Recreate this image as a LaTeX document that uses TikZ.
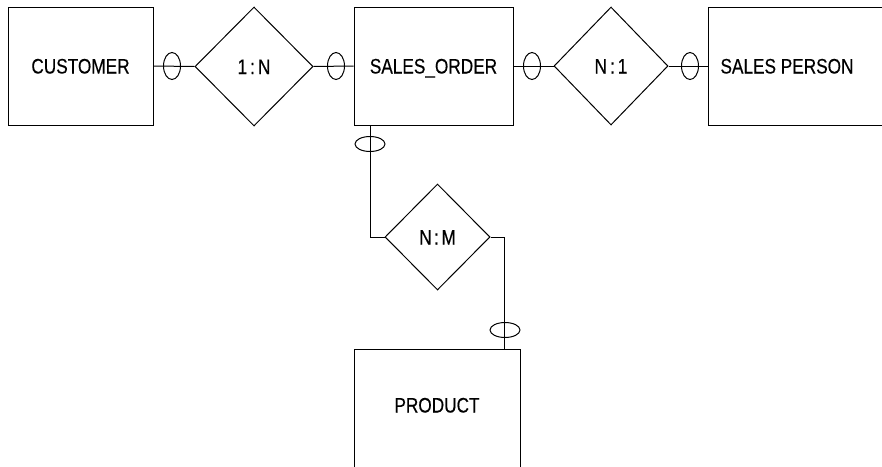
\documentclass[tikz,border=0pt]{standalone}
\usepackage{fontspec}
\setmainfont{Liberation Sans}[FakeStretch=0.82,FakeBold=0.4]
\usetikzlibrary{shapes.geometric}
\begin{document}
\begin{tikzpicture}[x=1pt,y=-1pt,line width=1pt,
  txt/.style={font=\fontsize{21}{24}\selectfont, text height=15pt, text depth=0pt},
  lbl/.style={txt, inner sep=0pt},
  ent/.style={draw, rectangle, inner sep=0pt, txt},
  rel/.style={draw, diamond, inner sep=0pt, txt},
  vmark/.style={draw, ellipse, inner sep=0pt, minimum width=17pt, minimum height=27pt},
  hmark/.style={draw, ellipse, inner sep=0pt, minimum width=30pt, minimum height=15pt}]
\clip (0,0) rectangle (882,466);
% entities
\node[ent, minimum width=145pt, minimum height=118pt] (cust) at (80.5,66) {CUSTOMER};
\node[ent, minimum width=159pt, minimum height=118pt] (so) at (433.5,66) {SALES\_ORDER};
\node[ent, minimum width=200pt, minimum height=118pt, anchor=west] (sp) at (708,66) {};
\node[lbl] (spl) at (787,66) {SALES PERSON};
\node[ent, minimum width=166pt, minimum height=118pt, text depth=6pt] (prod) at (437,408) {PRODUCT};
% relationships
\node[rel, minimum width=118pt, minimum height=119pt] (r1) at (254,66.5) {1\kern3pt:\kern3pt N};
\node[rel, minimum width=114pt, minimum height=118pt] (r2) at (611,66) {N\kern3pt:\kern3pt 1};
\node[rel, minimum width=105pt, minimum height=106pt] (r3) at (437.5,237) {N\kern2.5pt:\kern2.5pt M};
% connectors
\draw (cust.east) -- (r1.west);
\draw (r1.east) -- (so.west);
\draw (so.east) -- (r2.west);
\draw (r2.east) -- (sp.west);
\coordinate (c5) at (370,144);
\coordinate (c6) at (504,330);
\draw (c5 |- so.south) -- (c5 |- r3.west) -- (r3.west);
\draw (r3.east) -- (c6 |- r3.east) -- (c6 |- prod.north);
% cardinality marks
\node[vmark] (e1) at (172,66) {};
\node[vmark] (e2) at (336,66) {};
\node[vmark] (e3) at (532,66) {};
\node[vmark] (e4) at (690,66) {};
\node[hmark] (e5) at (c5) {};
\node[hmark] (e6) at (505,330) {};
\end{tikzpicture}
\end{document}
